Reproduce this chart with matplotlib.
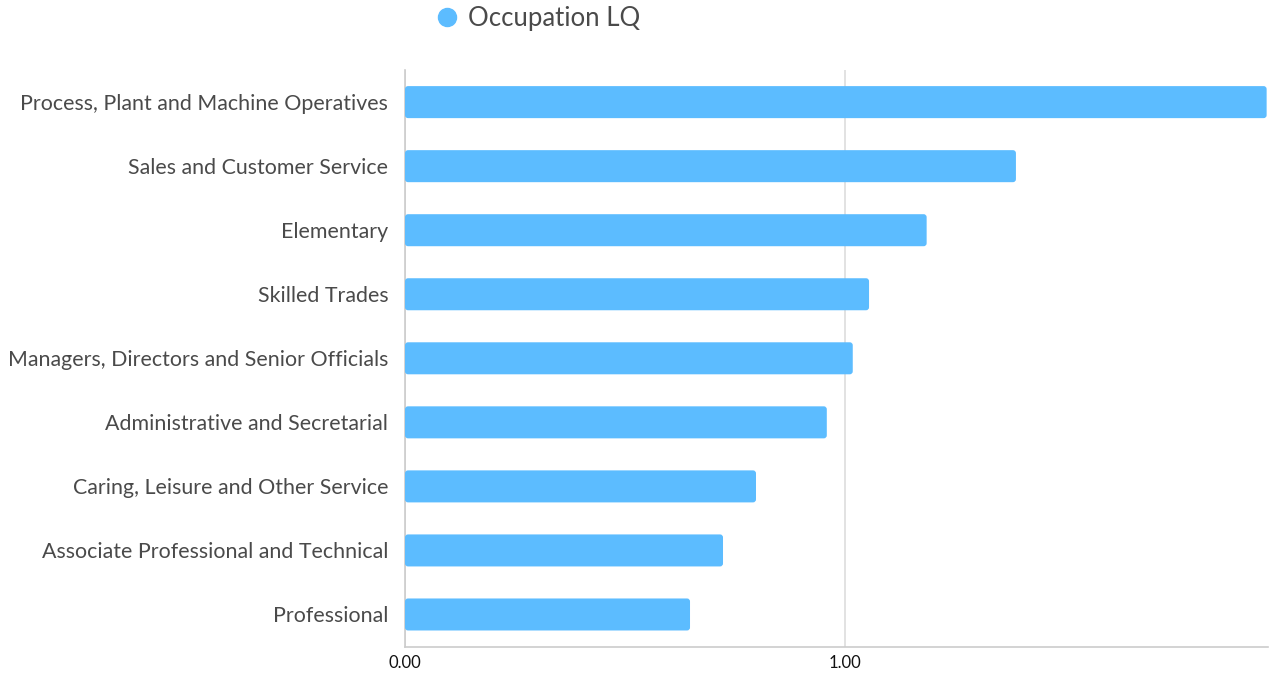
import matplotlib
matplotlib.use('Agg')
import matplotlib.pyplot as plt
from matplotlib.patches import FancyBboxPatch
from matplotlib.lines import Line2D

# occupations, bottom to top
categories = [
    'Professional',
    'Associate Professional and Technical',
    'Caring, Leisure and Other Service',
    'Administrative and Secretarial',
    'Managers, Directors and Senior Officials',
    'Skilled Trades',
    'Elementary',
    'Sales and Customer Service',
    'Process, Plant and Machine Operatives',
]
lq_values = [0.648, 0.723, 0.798, 0.959, 1.018, 1.055, 1.186, 1.389, 1.959]
x_ticks = [0.0, 1.0]
x_tick_labels = ['0.00', '1.00']

BAR_COLOR = '#5CBCFF'
plt.rcParams['font.family'] = ['Lato', 'DejaVu Sans']

fig = plt.figure(figsize=(12.76, 6.74), dpi=100)
ax = fig.add_axes([0.3174, 0.0408, 0.9937 - 0.3174, 0.896 - 0.0408])

xmax = 1.962
ax.set_xlim(0, xmax)
ax.set_ylim(-0.5, len(categories) - 0.5)

# rounded bars: keep corner radius equal in pixels on both axes
bbox = ax.get_position()
w_px = bbox.width * fig.get_figwidth() * fig.dpi
h_px = bbox.height * fig.get_figheight() * fig.dpi
x_per_px = xmax / w_px
y_per_px = len(categories) / h_px
bar_h = 0.5
for i, v in enumerate(lq_values):
    patch = FancyBboxPatch((0, i - bar_h / 2), v, bar_h,
                           boxstyle='round,pad=0,rounding_size=%f' % (3 * x_per_px),
                           mutation_aspect=y_per_px / x_per_px,
                           facecolor=BAR_COLOR, edgecolor='none', zorder=3)
    ax.add_patch(patch)

ax.set_yticks(range(len(categories)))
ax.set_yticklabels(categories, fontsize=15.4, color='#4a4a4a')
ax.set_xticks(x_ticks)
ax.set_xticklabels(x_tick_labels, fontsize=12, color='#111111')
ax.tick_params(axis='both', length=0)
ax.tick_params(axis='y', pad=12)
ax.tick_params(axis='x', pad=6)

ax.grid(axis='x', color='#dddddd', linewidth=1.2, zorder=0)
for side in ['top', 'right']:
    ax.spines[side].set_visible(False)
ax.spines['left'].set_color('#cccccc')
ax.spines['bottom'].set_color('#cccccc')
ax.spines['left'].set_linewidth(1.2)
ax.spines['bottom'].set_linewidth(1.2)

handle = Line2D([], [], marker='o', linestyle='none', markersize=13,
                markerfacecolor=BAR_COLOR, markeredgecolor=BAR_COLOR)
fig.legend([handle], ['Occupation LQ'], loc='center', bbox_to_anchor=(0.421, 0.973),
           frameon=False, fontsize=18.5, labelcolor='#4a4a4a',
           handletextpad=0.35, handlelength=1.0)

fig.savefig('out.png', dpi=100)
